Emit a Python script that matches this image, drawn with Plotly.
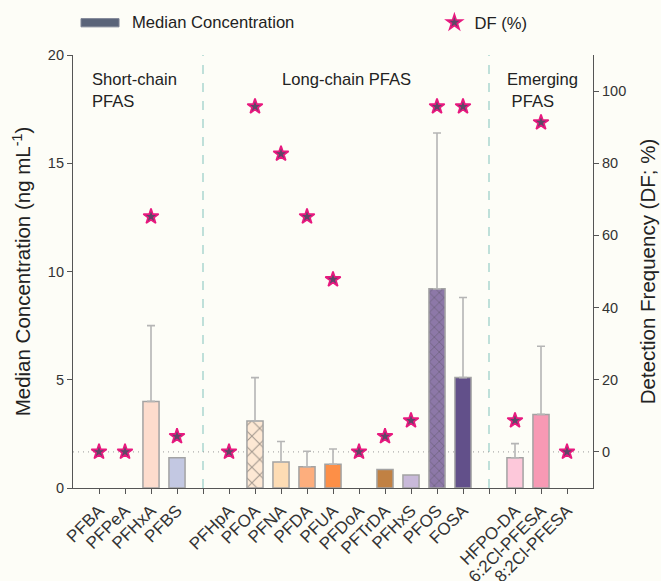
import plotly.graph_objects as go

# ---- data ----
short_chain = ["PFBA", "PFPeA", "PFHxA", "PFBS"]
long_chain = ["PFHpA", "PFOA", "PFNA", "PFDA", "PFUA", "PFDoA", "PFTrDA", "PFHxS", "PFOS", "FOSA"]
emerging = ["HFPO-DA", "6:2Cl-PFESA", "8:2Cl-PFESA"]
groups = [short_chain, long_chain, emerging]
group_labels = ["Short-chain<br>PFAS", "Long-chain PFAS", "Emerging<br>\u00a0PFAS"]

median_conc = [0, 0, 4.0, 1.4,
               0, 3.1, 1.2, 0.98, 1.1, 0, 0.86, 0.6, 9.2, 5.1,
               1.4, 3.4, 0]
upper_whisker = [None, None, 7.5, None,
                 None, 5.1, 2.15, 1.7, 1.8, None, None, None, 16.4, 8.8,
                 2.05, 6.55, None]
df_percent = [0, 0, 65.2, 4.3,
              0, 95.7, 82.6, 65.2, 47.8, 0, 4.3, 8.7, 95.7, 95.7,
              8.7, 91.3, 0]
bar_colors = ["#fddccd", "#fddccd", "#fddccd", "#c3c8e2",
              "#fde8d4", "#fde8d4", "#fddcb4", "#fdae7d", "#fd8f47", "#c18143", "#c18143", "#c8b9d9", "#8d78a8", "#62508a",
              "#fdc8da", "#f799b4", "#f799b4"]
bar_patterns = ["", "", "", "",
                "", "x", "", "", "", "", "", "", "x", "",
                "", "", ""]
pattern_sizes = [8, 8, 8, 8,
                 8, 11, 8, 8, 8, 8, 8, 8, 7, 8,
                 8, 8, 8]

# ---- positions with a blank slot between groups ----
names, xpos, dividers, group_mid = [], [], [], []
slot = 0
for gi, g in enumerate(groups):
    if gi > 0:
        dividers.append(slot)
        slot += 1
    for n in g:
        names.append(n)
        xpos.append(slot)
        slot += 1
    group_mid.append((xpos[-1] + xpos[-len(g)]) / 2)
n_slots = slot
tickvals = list(range(n_slots))
ticktext = [names[xpos.index(t)] if t in xpos else "" for t in tickvals]
outline_w = [1.5 if v > 0 else 0 for v in median_conc]

FONT = "Arial, Liberation Sans, sans-serif"
BG = "#fdfdf7"
TXT = "#222"

fig = go.Figure()

fig.add_trace(go.Bar(
    x=xpos, y=median_conc, width=0.62,
    marker=dict(color=bar_colors,
                line=dict(color="#a3a3a3", width=outline_w),
                pattern=dict(shape=bar_patterns, size=pattern_sizes, fillmode="overlay",
                             fgcolor="#9c9c9c", solidity=0.18)),
    showlegend=False, hoverinfo="skip"))

wx = [x for x, w in zip(xpos, upper_whisker) if w is not None]
wy = [m for m, w in zip(median_conc, upper_whisker) if w is not None]
we = [w - m for m, w in zip(median_conc, upper_whisker) if w is not None]
fig.add_trace(go.Scatter(
    x=wx, y=wy, mode="markers", marker=dict(size=1, opacity=0),
    error_y=dict(type="data", array=we, arrayminus=[0] * len(we), symmetric=False,
                 color="#b5b5b5", thickness=1.6, width=4),
    showlegend=False, hoverinfo="skip"))

fig.add_trace(go.Scatter(
    x=xpos, y=df_percent, yaxis="y2", mode="markers", name="DF (%)",
    marker=dict(symbol="star", size=11.5, color="#5e4767",
                line=dict(color="#e8197f", width=1.7)),
    hoverinfo="skip"))

shapes = []
for d in dividers:
    shapes.append(dict(type="line", xref="x", yref="paper", x0=d, x1=d, y0=0, y1=1,
                       line=dict(color="#b9ddd6", width=1.8, dash="dash"), layer="below"))
shapes.append(dict(type="line", xref="paper", yref="y2", x0=0, x1=1, y0=0, y1=0,
                   line=dict(color="#9a9a9a", width=1, dash="1px,4px"), layer="below"))
# legend swatch for Median Concentration
shapes.append(dict(type="rect", xref="paper", yref="paper", x0=0.0154, x1=0.0885, y0=1.065, y1=1.084,
                   fillcolor="#5a6479", line=dict(color="#7c8294", width=1)))

annotations = [
    dict(text="Median Concentration", xref="paper", yref="paper", x=0.1096, y=1.0746,
         xanchor="left", yanchor="middle", showarrow=False, font=dict(size=16.6, color=TXT)),
    dict(text=group_labels[0], xref="paper", yref="paper", x=0.032, y=0.97, xanchor="left",
         yanchor="top", align="left", showarrow=False, font=dict(size=16.6, color=TXT)),
    dict(text=group_labels[1], xref="x", yref="paper", x=group_mid[1], y=0.97, xanchor="center",
         yanchor="top", showarrow=False, font=dict(size=16.6, color=TXT)),
    dict(text=group_labels[2], xref="paper", yref="paper", x=0.83, y=0.97, xanchor="left",
         yanchor="top", align="left", showarrow=False, font=dict(size=16.6, color=TXT)),
]

axis_common = dict(showline=True, linecolor="#555", linewidth=1.2, ticks="outside",
                   ticklen=5, tickcolor="#555", showgrid=False, zeroline=False,
                   automargin=False, tickfont=dict(size=14.5, color="#333"))

fig.update_layout(
    width=661, height=581,
    margin=dict(l=73, r=68, t=55, b=93, autoexpand=False),
    paper_bgcolor=BG, plot_bgcolor=BG,
    font=dict(family=FONT, color=TXT),
    barmode="overlay",
    xaxis=dict(range=[-1, n_slots], tickvals=tickvals, ticktext=ticktext, tickangle=-45,
               **{**axis_common, "tickfont": dict(size=17, color="#333")}),
    yaxis=dict(range=[0, 20], dtick=5,
               title=dict(text="Median Concentration (ng mL<sup>-1</sup>)",
                          font=dict(size=20.5, color=TXT), standoff=11),
               **axis_common),
    yaxis2=dict(range=[-10, 110], tickvals=[0, 20, 40, 60, 80, 100], overlaying="y", side="right",
                title=dict(text="Detection Frequency (DF; %)", font=dict(size=20.5, color=TXT), standoff=15),
                **axis_common),
    legend=dict(orientation="h", x=0.695, y=1.0746, xanchor="left", yanchor="middle",
                bgcolor="rgba(0,0,0,0)", font=dict(size=16.6, color=TXT)),
    shapes=shapes, annotations=annotations,
)

fig.write_html("out.html", config={"displayModeBar": False},
               post_script="document.body.style.margin='0';document.body.style.background='%s';"
                           "document.body.style.overflow='hidden';" % BG)
